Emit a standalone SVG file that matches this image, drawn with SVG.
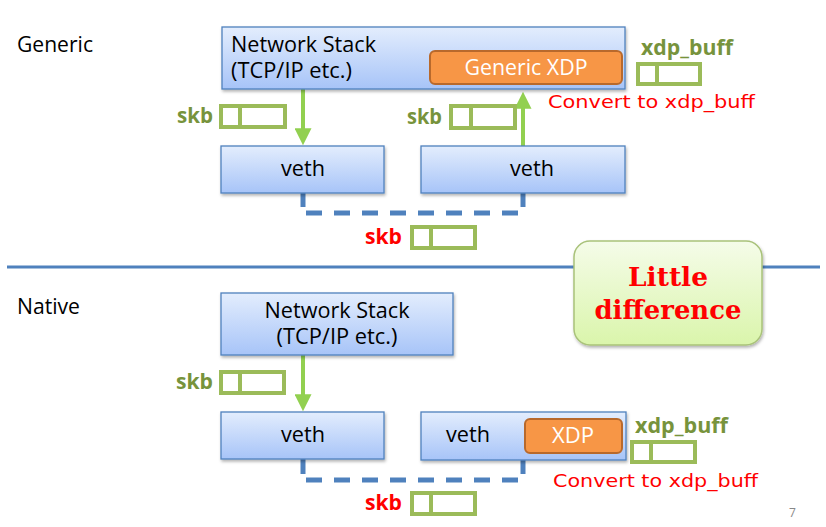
<svg xmlns="http://www.w3.org/2000/svg" width="826" height="527" viewBox="0 0 826 527">
<defs>
<linearGradient id="blue" x1="0" y1="0" x2="0" y2="1">
<stop offset="0" stop-color="#e3edfd"/>
<stop offset="1" stop-color="#a7c4f8"/>
</linearGradient>
<linearGradient id="green" x1="0" y1="0" x2="0" y2="1">
<stop offset="0" stop-color="#f5fce9"/>
<stop offset="1" stop-color="#daf5ab"/>
</linearGradient>
<filter id="sh" x="-10%" y="-10%" width="120%" height="130%">
<feDropShadow dx="1" dy="2" stdDeviation="1.5" flood-color="#000" flood-opacity="0.3"/>
</filter>
<marker id="ah" viewBox="0 0 10 10" refX="1" refY="5" markerWidth="4.25" markerHeight="4.25" orient="auto" markerUnits="strokeWidth">
<path d="M0,0 L10,5 L0,10 Z" fill="#92d050"/>
</marker>
</defs>
<style>
.lbl{font-family:"Open Sans","Noto Sans",sans-serif;font-size:21px;fill:#000}
.box{fill:url(#blue);stroke:#4f81bd;stroke-width:1.3;filter:url(#sh)}
.ctr{text-anchor:middle}
.xdp{fill:#f79646;stroke:#b8692c;stroke-width:2}
.xdpt{font-family:"Open Sans","Noto Sans",sans-serif;font-size:21px;fill:#fff;text-anchor:middle}
.buf{fill:#fff;stroke:#9bbb59;stroke-width:4}
.bufd{stroke:#9bbb59;stroke-width:4}
.gtxt{font-family:"Open Sans","Noto Sans",sans-serif;font-weight:bold;font-size:21px;fill:#77933c}
.rtxt{font-family:"Open Sans","Noto Sans",sans-serif;font-weight:bold;font-size:21px;fill:#ff0000}
.conv{font-family:"DejaVu Sans",sans-serif;font-size:18px;fill:#ff0000}
.arr{stroke:#92d050;stroke-width:4;fill:none;marker-end:url(#ah)}
.dash{stroke:#4f81bd;stroke-width:5;fill:none}
.big{font-family:"DejaVu Serif",serif;font-weight:bold;font-size:26px;fill:#ff0000;text-anchor:middle}
</style>

<!-- section labels -->
<text class="lbl" x="17" y="52" textLength="76" lengthAdjust="spacingAndGlyphs">Generic</text>
<text class="lbl" x="17" y="314" textLength="63" lengthAdjust="spacingAndGlyphs">Native</text>
<line x1="7" y1="267" x2="820" y2="267" stroke="#4f81bd" stroke-width="3"/>

<!-- connectors -->
<g id="connectors">
<line class="arr" x1="303" y1="89" x2="303" y2="130"/>
<line class="arr" x1="523" y1="147" x2="523" y2="107"/>
<path class="dash" d="M303,193 V207"/>
<path class="dash" d="M306,213 H523 V207" stroke-dasharray="16 12"/>
<path class="dash" d="M523,193 V207"/>
<line class="arr" x1="303" y1="355" x2="303" y2="396"/>
<path class="dash" d="M303,459 V474"/>
<path class="dash" d="M306,480 H523" stroke-dasharray="16 12"/>
<path class="dash" d="M523,460 V474"/>
</g>

<!-- Generic -->
<g id="gen-stack">
<rect class="box" x="222" y="27" width="403" height="62"/>
<text class="lbl" x="231" y="52" textLength="145" lengthAdjust="spacingAndGlyphs">Network Stack</text>
<text class="lbl" x="231" y="78" textLength="121" lengthAdjust="spacingAndGlyphs">(TCP/IP etc.)</text>
</g>
<g id="gen-xdp">
<rect class="xdp" x="430" y="51" width="192" height="33" rx="5"/>
<text class="xdpt" x="526" y="75" textLength="123" lengthAdjust="spacingAndGlyphs">Generic XDP</text>
</g>
<g id="gen-veth1">
<rect class="box" x="221" y="146" width="163" height="47"/>
<text class="lbl ctr" x="303" y="176" textLength="44" lengthAdjust="spacingAndGlyphs">veth</text>
</g>
<g id="gen-veth2">
<rect class="box" x="421" y="146" width="204" height="47"/>
<text class="lbl ctr" x="532" y="176" textLength="44" lengthAdjust="spacingAndGlyphs">veth</text>
</g>
<g id="gen-skb1">
<text class="gtxt" x="177" y="123" textLength="36" lengthAdjust="spacingAndGlyphs">skb</text>
<rect class="buf" x="221" y="106" width="64" height="21"/>
<line class="bufd" x1="240" y1="106" x2="240" y2="127"/>
</g>
<g id="gen-skb2">
<text class="gtxt" x="407" y="124" textLength="35" lengthAdjust="spacingAndGlyphs">skb</text>
<rect class="buf" x="451" y="106" width="64" height="22"/>
<line class="bufd" x1="471" y1="106" x2="471" y2="128"/>
</g>
<g id="gen-xdpbuff">
<text class="gtxt" x="641" y="55" textLength="92" lengthAdjust="spacingAndGlyphs">xdp_buff</text>
<rect class="buf" x="638" y="64" width="62" height="20"/>
<line class="bufd" x1="657" y1="64" x2="657" y2="84"/>
<text class="conv" x="548" y="108" textLength="207" lengthAdjust="spacingAndGlyphs">Convert to xdp_buff</text>
</g>
<g id="gen-skb3">
<text class="rtxt" x="365" y="244" textLength="37" lengthAdjust="spacingAndGlyphs">skb</text>
<rect class="buf" x="412" y="227" width="63" height="21"/>
<line class="bufd" x1="431" y1="227" x2="431" y2="248"/>
</g>

<!-- Little difference -->
<g id="note">
<rect x="574" y="241" width="188" height="104" rx="16" fill="url(#green)" stroke="#a9c27a" stroke-width="1.5" filter="url(#sh)"/>
<text class="big" x="668" y="286" textLength="80" lengthAdjust="spacingAndGlyphs">Little</text>
<text class="big" x="668" y="319" textLength="147" lengthAdjust="spacingAndGlyphs">difference</text>
</g>

<!-- Native -->
<g id="nat-stack">
<rect class="box" x="221" y="293" width="232" height="62"/>
<text class="lbl ctr" x="337" y="318" textLength="145" lengthAdjust="spacingAndGlyphs">Network Stack</text>
<text class="lbl ctr" x="337" y="344" textLength="121" lengthAdjust="spacingAndGlyphs">(TCP/IP etc.)</text>
</g>
<g id="nat-veth1">
<rect class="box" x="221" y="412" width="163" height="47"/>
<text class="lbl ctr" x="303" y="442" textLength="44" lengthAdjust="spacingAndGlyphs">veth</text>
</g>
<g id="nat-veth2">
<rect class="box" x="421" y="412" width="205" height="48"/>
<text class="lbl ctr" x="468" y="442" textLength="44" lengthAdjust="spacingAndGlyphs">veth</text>
</g>
<g id="nat-xdp">
<rect class="xdp" x="525" y="419" width="97" height="34" rx="5"/>
<text class="xdpt" x="573" y="443" textLength="42" lengthAdjust="spacingAndGlyphs">XDP</text>
</g>
<g id="nat-skb1">
<text class="gtxt" x="176" y="389" textLength="37" lengthAdjust="spacingAndGlyphs">skb</text>
<rect class="buf" x="221" y="372" width="63" height="21"/>
<line class="bufd" x1="240" y1="372" x2="240" y2="393"/>
</g>
<g id="nat-xdpbuff">
<text class="gtxt" x="635" y="433" textLength="93" lengthAdjust="spacingAndGlyphs">xdp_buff</text>
<rect class="buf" x="632" y="442" width="63" height="20"/>
<line class="bufd" x1="651" y1="442" x2="651" y2="462"/>
<text class="conv" x="553" y="487" textLength="205" lengthAdjust="spacingAndGlyphs">Convert to xdp_buff</text>
</g>
<g id="nat-skb2">
<text class="rtxt" x="365" y="510" textLength="37" lengthAdjust="spacingAndGlyphs">skb</text>
<rect class="buf" x="412" y="493" width="63" height="21"/>
<line class="bufd" x1="431" y1="493" x2="431" y2="514"/>
</g>

<text x="789" y="517" font-family="'Open Sans',sans-serif" font-size="12" fill="#888">7</text>
</svg>
